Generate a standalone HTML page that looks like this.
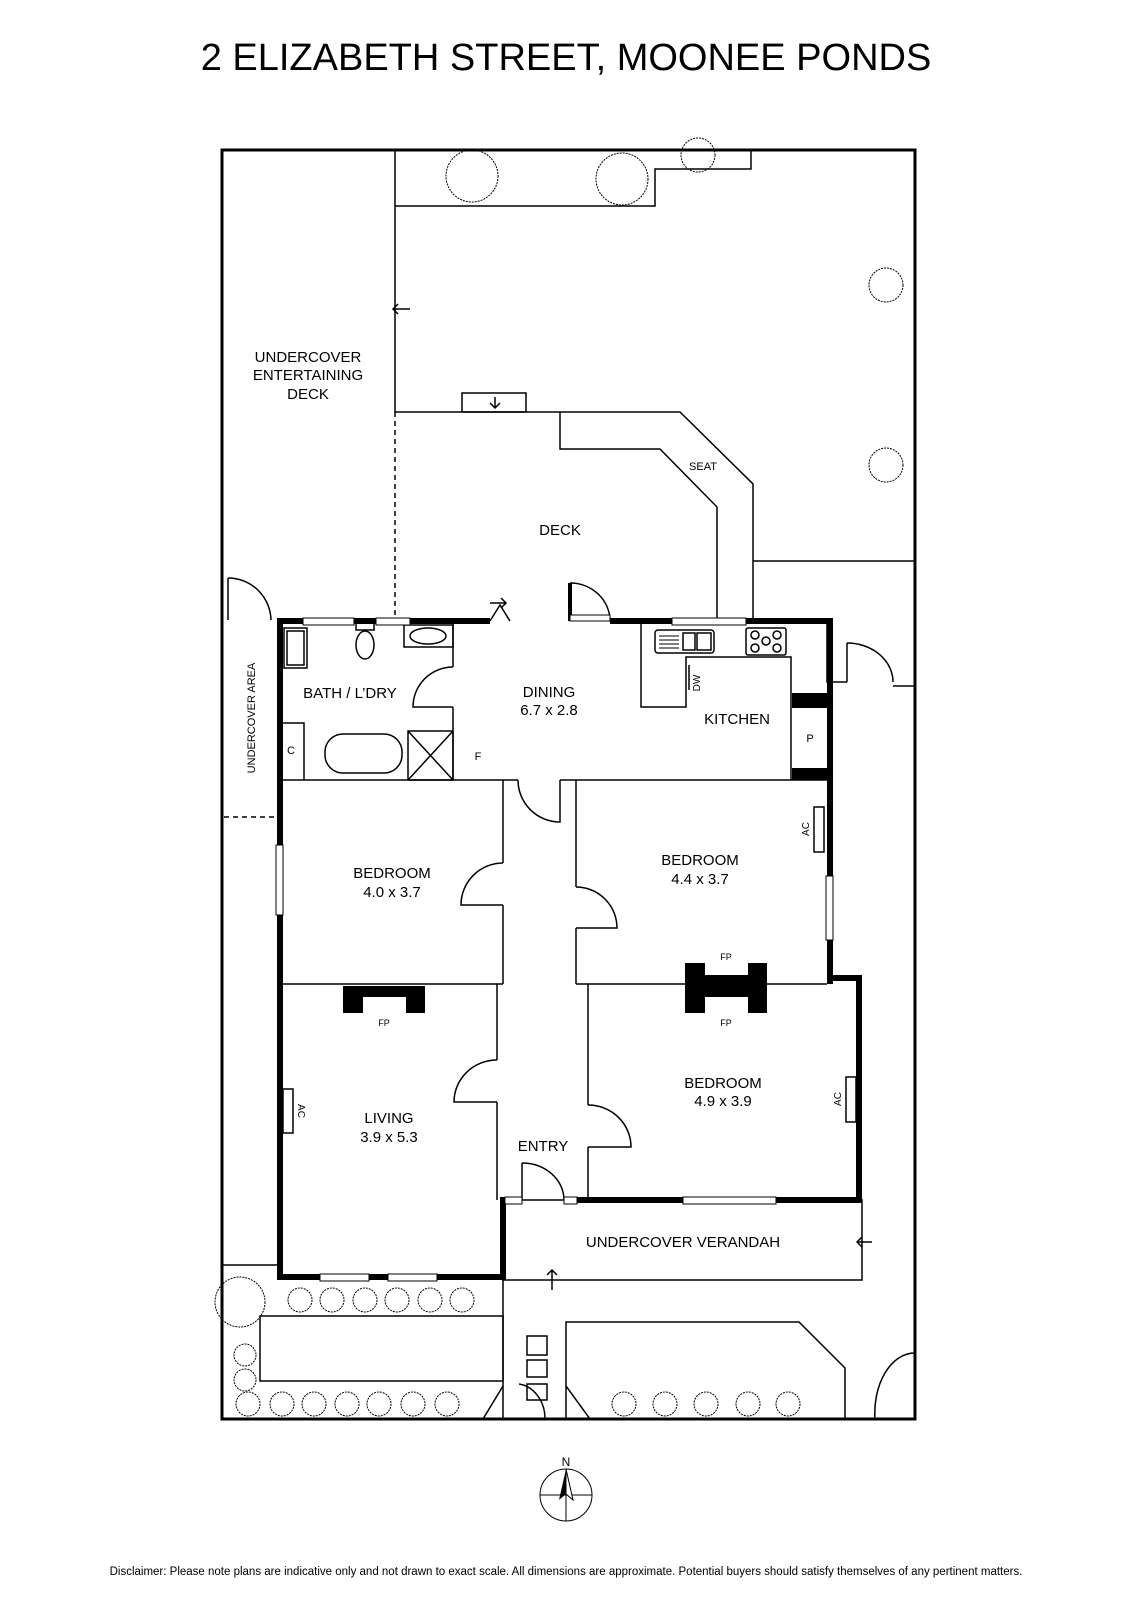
<!DOCTYPE html>
<html><head><meta charset="utf-8"><style>
html,body{margin:0;padding:0;background:#fff}
svg{display:block}
text{font-family:"Liberation Sans",Arial,sans-serif;fill:#000}
.t{font-size:15px;text-anchor:middle}
.s{font-size:10px;text-anchor:middle}
</style></head><body>
<svg width="1132" height="1600" viewBox="0 0 1132 1600" xmlns="http://www.w3.org/2000/svg">
<text x="566" y="70" style="font-size:38px" text-anchor="middle">2 ELIZABETH STREET, MOONEE PONDS</text>
<g fill="none" stroke="#000" stroke-width="1.5">
<rect x="222" y="150" width="693" height="1269" stroke-width="3"/>
<polyline points="395,150 395,412"/>
<polyline points="395,206 655,206 655,169 751,169 751,150"/>
<line x1="395" y1="412" x2="395" y2="620" stroke-dasharray="5,4"/>
<polyline points="395,412 680,412 753,484 753,621"/>
<polyline points="560,412 560,449 660,449 717,507 717,621"/>
<line x1="753" y1="561" x2="915" y2="561"/>
<rect x="462" y="393" width="64" height="19"/>
<polyline points="495,397 495,408"/><polyline points="490,403 495,408 500,403"/>
<polyline points="393,309 410,309"/><polyline points="398,304 393,309 398,314"/>
<g stroke-width="1" stroke-dasharray="2,1">
<circle cx="472" cy="176" r="26"/><circle cx="622" cy="179" r="26"/><circle cx="698" cy="155" r="17"/>
<circle cx="886" cy="285" r="17"/><circle cx="886" cy="465" r="17"/>
<circle cx="240" cy="1302" r="25"/>
<ellipse cx="300" cy="1300" rx="12" ry="12"/><ellipse cx="332" cy="1300" rx="12" ry="12"/><ellipse cx="365" cy="1300" rx="12" ry="12"/><ellipse cx="397" cy="1300" rx="12" ry="12"/><ellipse cx="430" cy="1300" rx="12" ry="12"/><ellipse cx="462" cy="1300" rx="12" ry="12"/>
<circle cx="245" cy="1355" r="11"/><circle cx="245" cy="1380" r="11"/>
<circle cx="248" cy="1404" r="12"/><circle cx="282" cy="1404" r="12"/><circle cx="314" cy="1404" r="12"/><circle cx="347" cy="1404" r="12"/><circle cx="379" cy="1404" r="12"/><circle cx="413" cy="1404" r="12"/><circle cx="447" cy="1404" r="12"/>
<circle cx="624" cy="1404" r="12"/><circle cx="665" cy="1404" r="12"/><circle cx="706" cy="1404" r="12"/><circle cx="748" cy="1404" r="12"/><circle cx="788" cy="1404" r="12"/>
</g>
<polyline points="228,620 228,578"/><path d="M228,578 A43,43 0 0 1 271,620"/>
<line x1="224" y1="817" x2="276" y2="817" stroke-dasharray="5,4"/>
<line x1="223" y1="1265" x2="280" y2="1265"/>
<polyline points="827,621 827,682 847,682"/><polyline points="847,682 847,643"/><path d="M847,643 A46,39 0 0 1 893,682"/>
<line x1="893" y1="686" x2="915" y2="686"/>
<polyline points="453,621 453,667"/><polyline points="453,707 453,780"/>
<path d="M453,667 A40,40 0 0 0 413,707 L453,707"/>
<line x1="280" y1="780" x2="518" y2="780"/><line x1="560" y1="780" x2="827" y2="780"/>
<path d="M518,780 A42,42 0 0 0 560,822 L560,780"/>
<polyline points="503,780 503,863"/><polyline points="503,905 503,984"/>
<path d="M503,863 A42,42 0 0 0 461,905 L503,905"/>
<polyline points="576,780 576,887"/><polyline points="576,928 576,984"/>
<path d="M576,887 A41,41 0 0 1 617,928 L576,928"/>
<line x1="280" y1="984" x2="503" y2="984"/><line x1="576" y1="984" x2="827" y2="984"/>
<polyline points="497,984 497,1060"/><polyline points="497,1102 497,1200"/>
<path d="M497,1060 A43,42 0 0 0 454,1102 L497,1102"/>
<polyline points="588,984 588,1105"/><polyline points="588,1147 588,1200"/>
<path d="M588,1105 A43,42 0 0 1 631,1147 L588,1147"/>
<polyline points="522,1200 522,1163"/><path d="M522,1163 A42,37 0 0 1 564,1200"/>
<rect x="284" y="628" width="23" height="40"/><rect x="287" y="631" width="17" height="34"/>
<rect x="404" y="625" width="49" height="22"/><ellipse cx="428" cy="636" rx="18" ry="8"/>
<rect x="356" y="623" width="18" height="7"/><ellipse cx="365" cy="645" rx="9" ry="14"/>
<polyline points="280,723 304,723 304,780"/>
<rect x="325" y="734" width="77" height="39" rx="18"/>
<rect x="408" y="731" width="45" height="49"/><line x1="408" y1="731" x2="453" y2="780"/><line x1="453" y1="731" x2="408" y2="780"/>
<polyline points="641,621 641,707 686,707 686,657 791,657 791,780"/>
<rect x="655" y="630" width="59" height="23" rx="3"/><rect x="683" y="633" width="12" height="17"/><rect x="697" y="633" width="14" height="17"/>
<g stroke-width="1"><line x1="659" y1="636" x2="679" y2="636"/><line x1="659" y1="640" x2="679" y2="640"/><line x1="659" y1="644" x2="679" y2="644"/><line x1="659" y1="648" x2="679" y2="648"/></g>
<rect x="746" y="628" width="40" height="27" rx="2"/>
<circle cx="755" cy="635" r="4"/><circle cx="777" cy="635" r="4"/><circle cx="766" cy="641" r="4"/><circle cx="755" cy="648" r="4"/><circle cx="777" cy="648" r="4"/>
<line x1="689" y1="665" x2="689" y2="690"/>
<rect x="503" y="1200" width="359" height="80"/>
<polyline points="857,1242 872,1242"/><polyline points="862,1237 857,1242 862,1247"/>
<polyline points="552,1290 552,1270"/><polyline points="547,1275 552,1270 557,1275"/>
<line x1="503" y1="1280" x2="503" y2="1419"/>
<rect x="260" y="1316" width="243" height="65"/>
<polyline points="566,1419 566,1322 799,1322 845,1368 845,1419"/>
<rect x="527" y="1336" width="20" height="19"/><rect x="527" y="1360" width="20" height="17"/><rect x="527" y="1384" width="20" height="16"/>
<line x1="503" y1="1386" x2="483" y2="1419"/><line x1="566" y1="1386" x2="590" y2="1419"/>
<path d="M519,1384 A30,35 0 0 1 545,1419"/>
<path d="M915,1353 A40,60 0 0 0 875,1419"/>
<rect x="283" y="1089" width="10" height="44"/><rect x="846" y="1077" width="10" height="45"/><rect x="814" y="807" width="10" height="45"/>
<polyline points="490,621 500,605 510,621"/><polyline points="490,603 506,603"/><polyline points="501,598 506,603 501,608"/>
</g>
<g fill="none" stroke="#000" stroke-width="6">
<polyline points="280,780 280,621 490,621"/>
<polyline points="610,621 830,621 830,984"/>
<polyline points="830,978 859,978 859,1200 577,1200"/>
<polyline points="280,780 280,1277 503,1277 503,1200 522,1200"/>
<line x1="570" y1="583" x2="570" y2="621" stroke-width="4"/>
</g>
<path d="M570,583 A40,38 0 0 1 610,621" fill="none" stroke="#000" stroke-width="1.5"/>
<rect x="570" y="615" width="40" height="6" fill="#fff" stroke="#000" stroke-width="1"/>
<rect x="792" y="693" width="35" height="15" fill="#000"/><rect x="792" y="768" width="35" height="12" fill="#000"/>
<g fill="#fff" stroke="#000" stroke-width="1">
<rect x="303" y="618" width="51" height="7"/><rect x="376" y="618" width="34" height="7"/><rect x="672" y="618" width="74" height="7"/>
<rect x="276" y="845" width="7" height="70"/><rect x="826" y="876" width="7" height="64"/>
<rect x="320" y="1274" width="49" height="7"/><rect x="388" y="1274" width="49" height="7"/>
<rect x="683" y="1197" width="93" height="7"/><rect x="505" y="1197" width="17" height="7"/><rect x="564" y="1197" width="13" height="7"/>
</g>
<rect x="343" y="986" width="82" height="27" fill="#000"/><rect x="363" y="997" width="43" height="16" fill="#fff"/>
<rect x="685" y="963" width="82" height="50" fill="#000"/><rect x="705" y="963" width="43" height="12" fill="#fff"/><rect x="705" y="997" width="43" height="16" fill="#fff"/>
<text class="t" x="308" y="362">UNDERCOVER</text><text class="t" x="308" y="380">ENTERTAINING</text><text class="t" x="308" y="399">DECK</text>
<text class="t" x="560" y="535">DECK</text>
<text class="s" x="703" y="470" style="font-size:11px">SEAT</text>
<text class="t" x="350" y="698">BATH / L’DRY</text>
<text class="t" x="549" y="697">DINING</text><text class="t" x="549" y="715">6.7 x 2.8</text>
<text class="t" x="737" y="724">KITCHEN</text>
<text class="s" x="810" y="742" style="font-size:11px">P</text>
<text class="s" x="291" y="754" style="font-size:11px">C</text>
<text class="s" x="478" y="760" style="font-size:11px">F</text>
<text class="s" x="0" y="0" transform="translate(700,683) rotate(-90)">DW</text>
<text class="s" x="0" y="0" style="font-size:11px" transform="translate(255,718) rotate(-90)">UNDERCOVER AREA</text>
<text class="t" x="392" y="878">BEDROOM</text><text class="t" x="392" y="897">4.0 x 3.7</text>
<text class="t" x="700" y="865">BEDROOM</text><text class="t" x="700" y="884">4.4 x 3.7</text>
<text class="s" x="0" y="0" transform="translate(809,829) rotate(-90)">AC</text>
<text class="s" x="726" y="960" style="font-size:9px">FP</text>
<text class="s" x="384" y="1026" style="font-size:9px">FP</text><text class="s" x="726" y="1026" style="font-size:9px">FP</text>
<text class="s" x="0" y="0" transform="translate(298,1111) rotate(90)">AC</text>
<text class="s" x="0" y="0" transform="translate(841,1099) rotate(-90)">AC</text>
<text class="t" x="389" y="1123">LIVING</text><text class="t" x="389" y="1142">3.9 x 5.3</text>
<text class="t" x="723" y="1088">BEDROOM</text><text class="t" x="723" y="1106">4.9 x 3.9</text>
<text class="t" x="543" y="1151">ENTRY</text>
<text class="t" x="683" y="1247">UNDERCOVER VERANDAH</text>
<g fill="none" stroke="#000" stroke-width="1">
<circle cx="566" cy="1495" r="26"/><line x1="540" y1="1495" x2="592" y2="1495"/><line x1="566" y1="1469" x2="566" y2="1521"/>
</g>
<polygon points="566,1469 559,1500 566,1494" fill="#000"/><polygon points="566,1469 573,1500 566,1494" fill="#fff" stroke="#000" stroke-width="1"/>
<text class="s" x="566" y="1466" style="font-size:12px">N</text>
<text x="566" y="1575" style="font-size:11.5px" text-anchor="middle">Disclaimer: Please note plans are indicative only and not drawn to exact scale. All dimensions are approximate. Potential buyers should satisfy themselves of any pertinent matters.</text>
</svg>
</body></html>
